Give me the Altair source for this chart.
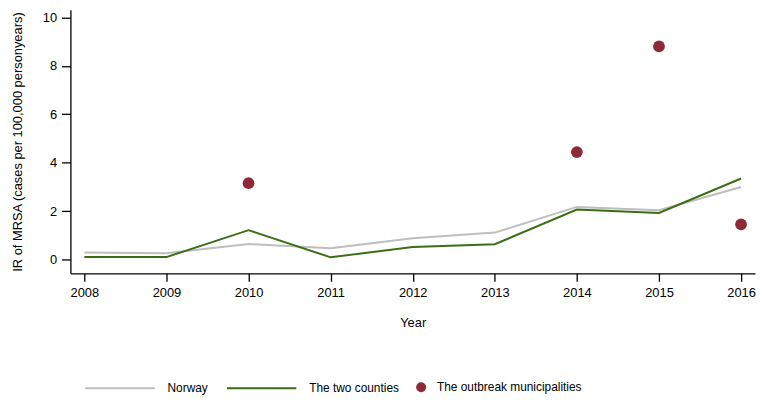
import altair as alt
import pandas as pd

years = [2008, 2009, 2010, 2011, 2012, 2013, 2014, 2015, 2016]
norway = [0.30, 0.27, 0.65, 0.47, 0.89, 1.12, 2.18, 2.04, 3.00]
counties = [0.11, 0.11, 1.22, 0.10, 0.53, 0.64, 2.07, 1.93, 3.35]
outbreak_years = [2010, 2014, 2015, 2016]
outbreak = [3.16, 4.44, 8.80, 1.46]
line_names = ["Norway", "The two counties"]
point_name = "The outbreak municipalities"
y_ticks = [0, 2, 4, 6, 8, 10]

GRAY = "#BEBEBE"
GREEN = "#3B6E14"
RED = "#8E2A35"
FONT = "Liberation Sans"

line_df = pd.DataFrame(
    [{"year": y, "value": v, "series": line_names[0], "order": 0} for y, v in zip(years, norway)]
    + [{"year": y, "value": v, "series": line_names[1], "order": 1} for y, v in zip(years, counties)]
)
pt_df = pd.DataFrame({"year": outbreak_years, "value": outbreak, "series": [point_name] * len(outbreak)})

x_enc = alt.X(
    "year:Q",
    scale=alt.Scale(domain=[2007.83, 2016.17], nice=False, zero=False),
    axis=alt.Axis(values=years, format="d", title="Year", tickSize=8, labelPadding=5, titlePadding=18),
)
y_enc = alt.Y(
    "value:Q",
    scale=alt.Scale(domain=[-0.56, 10.31], nice=False, zero=False),
    axis=alt.Axis(values=y_ticks, title="IR of MRSA (cases per 100,000 personyears)",
                  tickSize=9, labelPadding=5, titlePadding=18),
)

lines = alt.Chart(line_df).mark_line(strokeWidth=2).encode(
    x=x_enc,
    y=y_enc,
    detail="series:N",
    order="order:Q",
    color=alt.Color(
        "series:N",
        scale=alt.Scale(domain=line_names, range=[GRAY, GREEN]),
        legend=alt.Legend(
            orient="none", direction="horizontal", legendX=14, legendY=346,
            title=None, symbolType="stroke", symbolSize=4900, symbolStrokeWidth=2,
            labelFontSize=12, labelOffset=12, columnPadding=15, labelColor="#000",
            labelFont=FONT,
        ),
    ),
)

points = alt.Chart(pt_df).mark_circle(size=140, opacity=1).encode(
    x=x_enc,
    y=y_enc,
    color=alt.Color(
        "series:N",
        scale=alt.Scale(domain=[point_name], range=[RED]),
        legend=alt.Legend(
            orient="none", direction="horizontal", legendX=348, legendY=375,
            title=None, symbolType="circle", symbolSize=100, symbolOpacity=1,
            labelFontSize=12, labelOffset=10, labelColor="#000", labelFont=FONT,
        ),
    ),
)

chart = (
    alt.layer(lines, points)
    .resolve_scale(color="independent")
    .properties(
        width=691,
        height=266,
        autosize=alt.AutoSizeParams(type="none"),
        padding={"left": 63, "top": 0, "right": 2, "bottom": 121},
    )
    .configure_view(stroke=None)
    .configure_axis(
        grid=False,
        domainColor="#000",
        domainWidth=1.3,
        tickColor="#000",
        tickWidth=1.3,
        labelColor="#000",
        labelFont=FONT,
        labelFontSize=13,
        titleColor="#000",
        titleFont=FONT,
        titleFontSize=13,
        titleFontWeight="normal",
    )
    .configure_axisY(labelAngle=0)
)

chart.save("out.html", embed_options={"renderer": "svg", "actions": False})
